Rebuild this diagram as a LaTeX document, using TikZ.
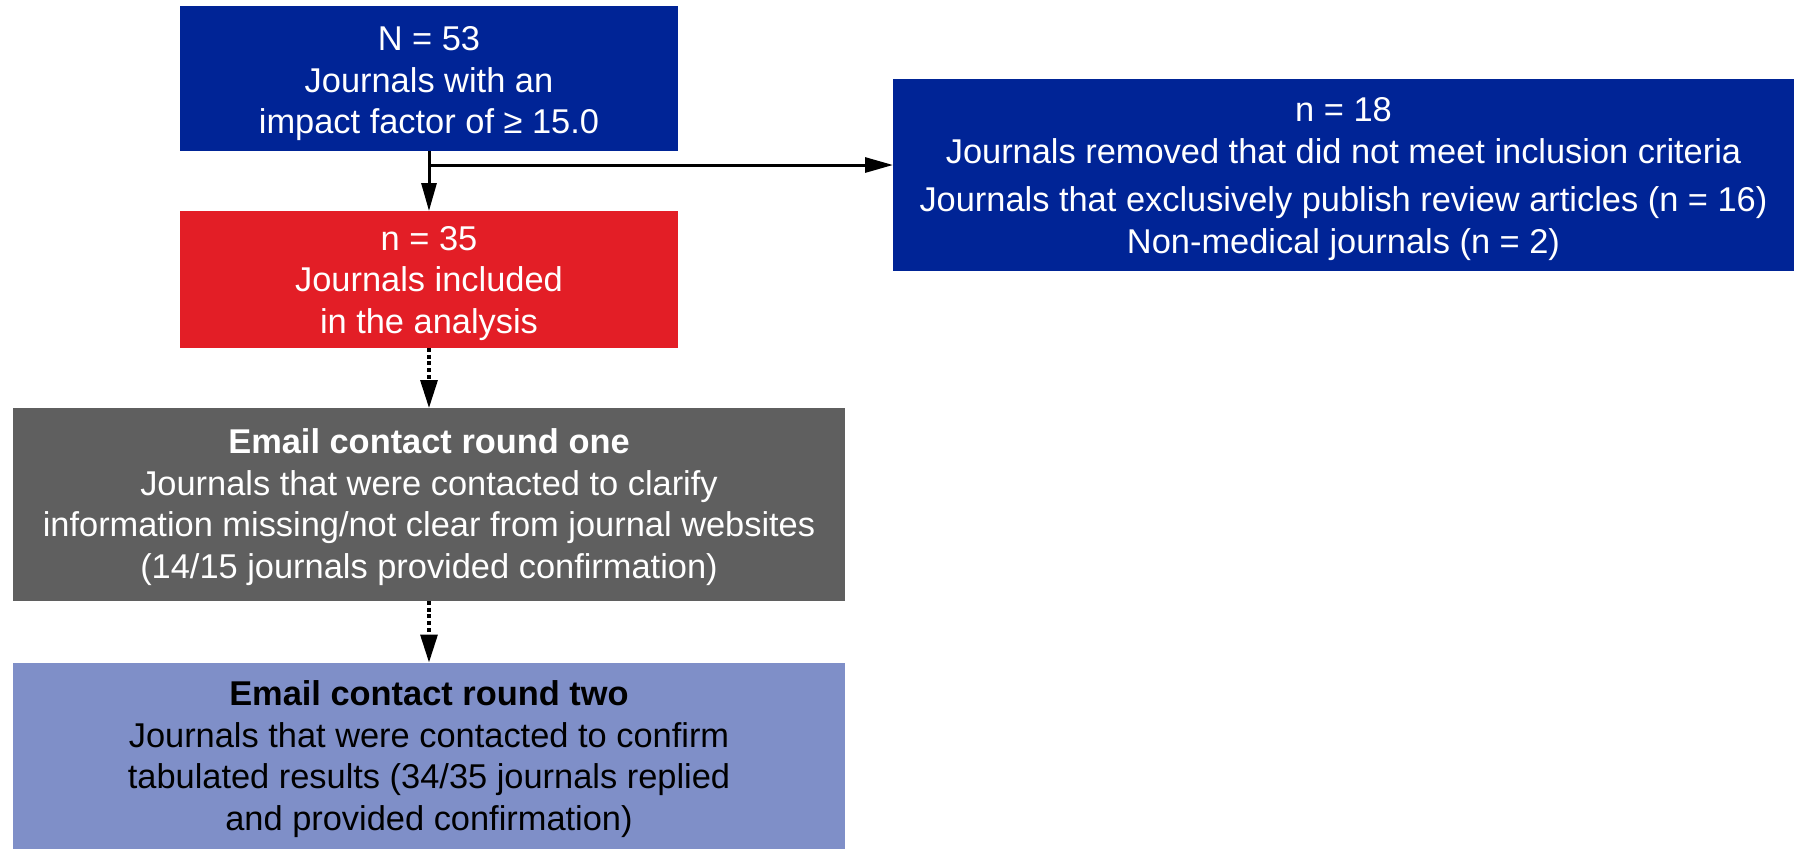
\documentclass[tikz,border=0pt]{standalone}
\usepackage{fontspec}
\setmainfont{Liberation Sans}
\usetikzlibrary{arrows.meta}
\definecolor{dblue}{RGB}{0,36,150}
\definecolor{cred}{RGB}{227,30,38}
\definecolor{cgray}{RGB}{95,95,95}
\definecolor{lblue}{RGB}{127,143,200}
\newcommand\tpush[1]{\rule{0pt}{#1}}
\tikzset{
  box/.style={rectangle, inner sep=0pt, outer sep=0pt, align=center,
    font=\fontsize{17.2pt}{20.75pt}\selectfont},
  conn/.style={line width=1.5pt, -{Triangle[length=14pt,width=7.5pt]}},
  dconn/.style={line width=1.6pt, dash pattern=on 2pt off 1.35pt, -{Triangle[length=14pt,width=8.5pt]}},
}
\begin{document}
\begin{tikzpicture}[x=0.5pt,y=-0.5pt]
\useasboundingbox (0,0) rectangle (1794,848);
\node[box, fill=dblue, text=white, minimum width=249pt, minimum height=72.5pt] (b1) at (429,78.5)
  {\tpush{17.5pt}N = 53\\Journals with an\\impact factor of ≥ 15.0};
\node[box, fill=cred, text=white, minimum width=249pt, minimum height=68.5pt] (b2) at (429,279.5)
  {\tpush{16pt}n = 35\\Journals included\\in the analysis};
\node[box, fill=dblue, text=white, minimum width=450.5pt, minimum height=96pt] (rb) at (1343.5,175)
  {\tpush{16pt}n = 18\\Journals removed that did not meet inclusion criteria\\[3.5pt]Journals that exclusively publish review articles (n = 16)\\Non-medical journals (n = 2)};
\node[box, fill=cgray, text=white, minimum width=416pt, minimum height=96.5pt] (b3) at (429,504.5)
  {\tpush{15pt}\textbf{Email contact round one}\\Journals that were contacted to clarify\\information missing/not clear from journal websites\\(14/15 journals provided confirmation)};
\node[box, fill=lblue, text=black, minimum width=416pt, minimum height=93.5pt] (b4) at (429,756)
  {\tpush{15.5pt}\textbf{Email contact round two}\\Journals that were contacted to confirm\\tabulated results (34/35 journals replied\\and provided confirmation)};
\coordinate (br) at ([yshift=-7pt]b1.south);
\draw[conn] (b1.south) -- (b2.north);
\draw[conn] (br) -- (br -| rb.west);
\draw[dconn] (b2.south) -- (b3.north);
\draw[dconn] (b3.south) -- (b4.north);
\end{tikzpicture}
\end{document}
